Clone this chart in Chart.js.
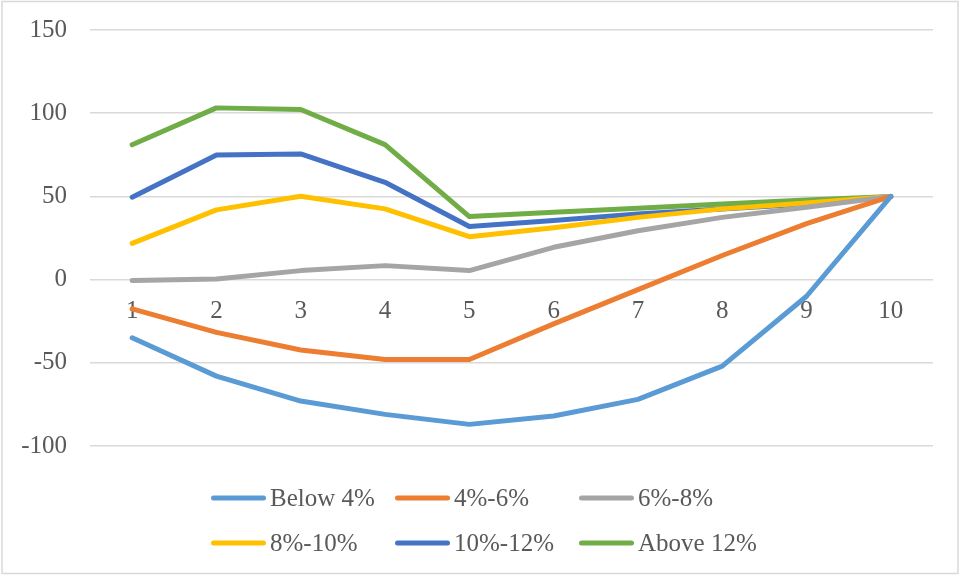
<!DOCTYPE html>
<html>
<head>
<meta charset="utf-8">
<script src="https://cdn.jsdelivr.net/npm/chart.js@4.4.1/dist/chart.umd.min.js"></script>
<style>
  html, body { margin: 0; padding: 0; background: #ffffff; }
  #wrap { position: relative; width: 960px; height: 575px; }
</style>
</head>
<body>
<div id="wrap"><canvas id="c" width="960" height="575"></canvas></div>
<script>
// Periods along the horizontal axis
const periods = ['1', '2', '3', '4', '5', '6', '7', '8', '9', '10'];

// One series per rate band
const below4  = [-35, -58, -73, -81, -87, -82, -72, -52, -10, 50];
const r4to6   = [-17.6, -31.7, -42.3, -48, -48, -26.6, -6, 14.5, 33.6, 50];
const r6to8   = [-0.6, 0.4, 5.4, 8.4, 5.4, 19.4, 29.4, 37.4, 43.5, 50];
const r8to10  = [21.8, 41.9, 50.1, 42.5, 25.8, 31.2, 37.4, 42.5, 46.1, 50];
const r10to12 = [49.5, 74.9, 75.5, 58.5, 31.9, 35.5, 39.5, 42.5, 45.5, 50];
const above12 = [81, 103.2, 102.2, 81.1, 37.9, 40.5, 42.9, 45.5, 47.9, 50];

const seriesNames = ['Below 4%', '4%-6%', '6%-8%', '8%-10%', '10%-12%', 'Above 12%'];
const seriesColors = ['#5B9BD5', '#ED7D31', '#A5A5A5', '#FFC000', '#4472C4', '#70AD47'];
const seriesValues = [below4, r4to6, r6to8, r8to10, r10to12, above12];

// Y axis ticks
const yMin = -100, yMax = 150, yStep = 50;

const FONT = "'Liberation Serif', 'Times New Roman', serif";
const TEXT = '#595959';
const GRID = '#d9d9d9';

// Frame around the whole chart
const framePlugin = {
  id: 'frame',
  beforeDraw(chart) {
    const ctx = chart.ctx;
    ctx.save();
    ctx.fillStyle = '#ffffff';
    ctx.fillRect(0, 0, chart.width, chart.height);
    ctx.strokeStyle = GRID;
    ctx.lineWidth = 1.5;
    ctx.strokeRect(2, 1.5, chart.width - 4, chart.height - 3);
    ctx.restore();
  }
};

// Legend laid out as a 3-column grid under the plot
const gridLegend = {
  id: 'gridLegend',
  afterDraw(chart) {
    const ctx = chart.ctx;
    const cols = 3, colW = 184, rowH = 45, lineLen = 55;
    const x0 = 211, y0 = chart.chartArea.bottom + 52;
    ctx.save();
    ctx.font = '25px ' + FONT;
    ctx.textBaseline = 'middle';
    chart.data.datasets.forEach((ds, i) => {
      const x = x0 + (i % cols) * colW;
      const y = y0 + Math.floor(i / cols) * rowH;
      ctx.strokeStyle = ds.borderColor;
      ctx.lineWidth = 5;
      ctx.lineCap = 'round';
      ctx.beginPath();
      ctx.moveTo(x + 2.5, y);
      ctx.lineTo(x + lineLen - 2.5, y);
      ctx.stroke();
      ctx.fillStyle = TEXT;
      ctx.fillText(ds.label, x + lineLen + 4, y + 1);
    });
    ctx.restore();
  }
};

new Chart(document.getElementById('c'), {
  type: 'line',
  data: {
    labels: periods,
    datasets: seriesNames.map((name, i) => ({
      label: name,
      data: seriesValues[i],
      borderColor: seriesColors[i],
      backgroundColor: seriesColors[i],
      borderWidth: 5,
      borderCapStyle: 'round',
      borderJoinStyle: 'round',
      pointRadius: 0,
      pointHoverRadius: 0,
      tension: 0,
      fill: false
    }))
  },
  options: {
    responsive: false,
    animation: false,
    devicePixelRatio: 1,
    layout: { padding: { left: 0, right: 27, top: 30, bottom: 129 } },
    plugins: {
      legend: { display: false },
      tooltip: { enabled: false }
    },
    scales: {
      x: {
        type: 'category',
        offset: true,
        position: { y: 0 },
        grid: { display: false, drawTicks: false },
        border: { display: false },
        ticks: {
          color: TEXT,
          font: { family: FONT, size: 25 },
          padding: 17,
          maxRotation: 0,
          autoSkip: false
        }
      },
      y: {
        min: yMin,
        max: yMax,
        afterFit(scale) {
          scale.width = 90;
          scale.paddingTop = 0;
          scale.paddingBottom = 0;
        },
        grid: { color: GRID, lineWidth: 1.5, drawTicks: false },
        border: { display: false },
        ticks: {
          stepSize: yStep,
          color: TEXT,
          font: { family: FONT, size: 25 },
          padding: 23
        }
      }
    }
  },
  plugins: [framePlugin, gridLegend]
});
</script>
</body>
</html>
